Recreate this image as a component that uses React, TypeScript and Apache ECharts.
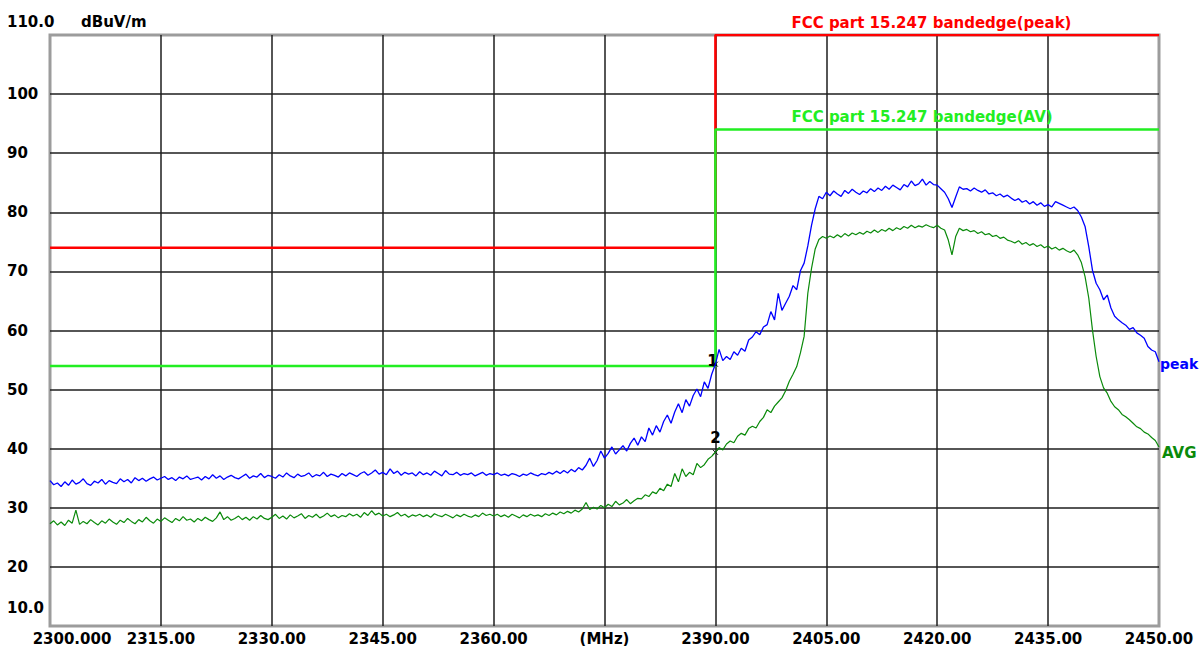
import React, { useEffect, useRef } from "react";
import * as echarts from "echarts";

// ---- data ----
const FREQ_START = 2300; // MHz
const FREQ_STEP = 0.5; // MHz between trace points
const FREQ_SPAN = 150;
const X_INTERVAL = 15;

const xTickLabels = ["2300.000", "2315.00", "2330.00", "2345.00", "2360.00", "(MHz)", "2390.00", "2405.00", "2420.00", "2435.00", "2450.00"];
const yTickLabels = ["10.0", "20", "30", "40", "50", "60", "70", "80", "90", "100", "110.0"];

const peakTrace = [
  34.6, 33.9, 34.2, 33.6, 34.4, 33.8, 34.7, 34.0, 34.3, 34.9, 34.1, 33.8, 34.5, 34.2, 34.8, 34.0, 34.6, 34.3, 34.1, 34.9,
  34.4, 34.8, 34.2, 35.1, 34.6, 35.0, 34.5, 34.9, 35.2, 34.7, 35.0, 35.3, 34.8, 35.1, 34.6, 35.2, 34.9, 35.4, 34.8, 35.0,
  35.2, 34.7, 35.3, 34.9, 35.6, 35.0, 35.4, 34.8, 35.2, 35.5, 35.1, 34.9, 35.3, 35.7, 35.0, 35.4, 35.2, 35.8, 35.1, 35.5,
  35.3, 35.0, 35.6, 35.2, 35.9, 35.4, 35.1, 35.7, 35.3, 35.5, 35.9, 35.2, 35.6, 35.4, 36.0, 35.3, 35.7, 35.5, 35.2, 35.8,
  35.4, 35.9, 35.6, 35.3, 35.8, 36.1, 35.5, 35.9, 36.4, 35.7, 36.0, 35.6, 36.6, 35.8, 36.2, 35.5, 36.0, 35.7, 35.9, 35.4,
  36.1, 35.6, 35.9, 35.5, 36.2, 35.8, 35.4, 36.3, 35.7, 35.6, 36.0, 35.5, 35.8, 35.6, 35.9, 35.4, 35.7, 36.0, 35.5, 35.8,
  35.6, 35.9, 35.5, 35.7, 35.4, 35.8, 35.6, 35.3, 35.7, 35.5, 35.9, 35.6, 35.4, 35.8, 35.6, 36.0, 35.7, 36.2, 35.8, 36.3,
  35.9, 36.5, 36.1, 36.8, 36.4, 37.2, 38.4, 37.0, 38.0, 39.6, 38.4, 39.2, 40.3, 39.1, 39.8, 40.5, 39.6, 40.9, 41.8, 40.6,
  42.0, 41.2, 43.5, 42.3, 43.9, 42.8, 44.6, 45.7, 44.3, 46.2, 47.6, 46.1, 48.3, 47.2, 49.0, 50.1, 48.8, 51.3, 50.2, 52.6,
  54.3, 56.8, 54.9, 55.6, 55.1, 56.4, 55.8, 57.0, 56.5, 58.4, 58.9, 59.8, 59.3, 60.6, 61.0, 63.2, 61.8, 66.3, 63.4, 64.6,
  65.8, 67.6, 66.9, 70.1, 71.4, 74.3, 77.8, 80.6, 82.7, 82.3, 83.4, 82.8, 83.6, 83.1, 82.7, 83.7, 83.2, 83.9, 83.4, 83.0,
  83.6, 83.3, 84.0, 83.5, 84.1, 83.7, 84.4, 83.9, 84.6, 84.2, 83.8, 84.7, 84.3, 85.3, 84.5, 84.8, 85.6, 84.6, 85.2, 84.7,
  84.6, 84.0, 83.4, 82.3, 80.8, 82.6, 84.3, 83.9, 84.0, 83.6, 84.1, 83.7, 83.4, 83.8, 83.1, 83.3, 82.8, 83.1, 82.6, 82.9,
  82.4, 82.0, 82.3, 81.7, 82.0, 81.4, 81.8, 81.2, 81.6, 81.0, 81.3, 80.9, 81.8, 81.5, 81.2, 80.9, 80.6, 80.9, 80.3, 79.2,
  77.6, 74.2, 70.2, 68.0, 66.9, 65.2, 66.0, 63.8, 62.4, 61.8, 61.3, 60.9, 60.2, 60.5, 59.6, 59.2, 58.7, 57.3, 56.7, 56.4,
  54.7,
];

const avgTrace = [
  27.3, 27.8, 27.1, 27.6, 27.0, 27.9, 27.4, 29.6, 27.2, 27.7, 27.3, 28.0, 27.5, 27.1, 27.8, 27.4, 28.1, 27.6, 27.2, 27.9,
  27.5, 28.2, 27.7, 27.3, 28.0, 27.6, 28.4, 27.8, 27.4, 28.1, 27.7, 28.3, 27.9, 27.5, 28.2, 27.8, 28.5, 27.9, 28.1, 27.6,
  28.2, 27.8, 28.4, 28.0, 27.7, 28.3, 29.3, 28.0, 28.5, 27.9, 28.2, 28.6, 28.0, 28.4, 27.9, 28.5, 28.1, 28.7, 28.2, 28.0,
  28.4, 28.9, 28.2, 28.6, 28.1, 28.8, 28.3, 28.6, 29.0, 28.2, 28.7, 28.4, 28.9, 28.3, 28.6, 29.1, 28.5, 28.8, 28.3, 28.7,
  28.5, 29.0, 28.6, 28.9, 28.4, 29.2, 28.7, 29.5, 28.8, 29.1, 28.6, 28.9, 28.5, 28.8, 29.2, 28.6, 28.9, 28.4, 28.8, 28.6,
  28.9, 28.5, 28.8, 28.4, 29.0, 28.7, 28.5, 28.9, 28.6, 28.3, 28.8, 28.5, 28.9, 28.6, 28.4, 28.8, 28.5, 29.1, 28.7, 28.9,
  28.6, 28.9, 28.5, 28.8, 28.4, 28.9, 28.6, 28.3, 28.8, 28.5, 28.9, 28.6, 28.8, 28.5, 29.0, 28.7, 29.1, 28.8, 29.3, 29.0,
  29.4, 29.1, 29.6, 29.3, 29.8, 30.9, 29.7, 30.1, 29.8, 30.4, 30.0, 30.6, 30.2, 31.1, 30.5, 30.8, 31.4, 30.7, 31.2, 31.6,
  31.5, 32.2, 31.9, 32.7, 32.4, 33.3, 32.9, 34.0, 33.6, 35.8, 34.4, 36.6, 35.3, 36.0, 35.6, 37.5, 36.8, 37.3, 38.2, 38.7,
  39.4, 40.2, 39.8, 40.8, 41.3, 41.0, 42.1, 42.6, 42.3, 43.4, 43.8, 43.5, 44.6, 45.3, 46.6, 46.1, 47.2, 47.9, 48.6, 49.8,
  51.4, 52.6, 53.9, 56.2, 59.0, 66.3, 70.5, 73.8, 75.4, 75.9, 75.6, 76.0, 75.7, 76.2, 75.8, 76.4, 76.0, 76.5, 76.2, 76.6,
  76.3, 76.8, 76.5, 77.0, 76.6, 77.1, 76.8, 77.3, 76.9, 77.4, 77.1, 77.6, 77.3, 77.8, 77.4, 77.7, 77.5, 77.9, 77.6, 77.4,
  77.8, 77.3, 77.0, 75.3, 72.8, 75.9, 77.3, 76.9, 77.1, 76.7, 76.9, 76.4, 76.7, 76.2, 76.4, 75.9, 76.1, 75.6, 75.8, 75.3,
  75.1, 74.8, 75.2, 74.6, 74.9, 74.4, 74.7, 74.2, 74.5, 74.0, 74.3, 73.8, 74.1, 73.6, 73.9, 73.5, 73.2, 73.6, 72.8, 71.5,
  69.1, 65.5, 60.1, 55.6, 52.2, 50.3, 49.4, 48.0, 47.1, 46.6, 45.8, 45.4, 44.9, 44.3, 43.7, 43.4, 42.8, 42.5, 41.9, 41.4,
  40.3,
];

const limitFreqs = [2300, 2390, 2390, 2450];
const peakLimitLevels = [74, 74, 110, 110];
const avLimitLevels = [54, 54, 94, 94];
const limitLabels = ["FCC part 15.247 bandedge(peak)", "FCC part 15.247 bandedge(AV)"];

const markerNames = ["1", "2"];
const markerFreqs = [2390, 2390];
const markerLevels = [54.3, 39.4];

// ---- styles ----
const FONT = "DejaVu Sans";
const BLUE = "#0000ff";
const DKGREEN = "#0a8a0a";
const RED = "#ff0000";
const LIMGREEN = "#22ee22";

const toXY = (trace: number[]) => trace.map((v, i) => [i * FREQ_STEP, v]);
const limitXY = (levels: number[]) => limitFreqs.map((f, i) => [f - FREQ_START, levels[i]]);

export default function App() {
  const ref = useRef<HTMLDivElement>(null);
  useEffect(() => {
    if (!ref.current) return;
    const chart = echarts.init(ref.current, undefined, { renderer: "svg" });
    const markerStyle = {
      symbol: "path://M0,0L10,10M10,0L0,10",
      symbolSize: 5,
      itemStyle: { color: "transparent", borderColor: "#000", borderWidth: 1 },
    };
    chart.setOption({
      animation: false,
      backgroundColor: "#ffffff",
      textStyle: { fontFamily: FONT, fontWeight: "bold", fontSize: 15 },
      grid: {
        left: 50,
        right: 41,
        top: 35,
        bottom: 20,
        show: true,
        borderColor: "#9c9c9c",
        borderWidth: 3,
        backgroundColor: "#ffffff",
      },
      xAxis: {
        type: "value",
        min: 0,
        max: FREQ_SPAN,
        interval: X_INTERVAL,
        axisLine: { show: false },
        axisTick: { show: false },
        splitLine: { show: true, showMinLine: false, showMaxLine: false, lineStyle: { color: "#1e1e1e", width: 1.5 } },
        axisLabel: {
          margin: 5,
          color: "#000",
          fontFamily: FONT,
          fontWeight: "bold",
          fontSize: 15,
          formatter: (v: number) => {
            const i = Math.round(v / X_INTERVAL);
            const t = xTickLabels[i];
            return i === 0 ? `{first|${t}}` : t;
          },
          rich: {
            first: { padding: [0, 0, 0, 44], color: "#000", fontFamily: FONT, fontWeight: "bold", fontSize: 15 },
          },
        },
      },
      yAxis: {
        type: "value",
        min: 10,
        max: 110,
        interval: 10,
        axisLine: { show: false },
        axisTick: { show: false },
        splitLine: { show: true, showMinLine: false, showMaxLine: false, lineStyle: { color: "#1e1e1e", width: 1.5 } },
        axisLabel: {
          align: "left",
          margin: 43,
          color: "#000",
          fontFamily: FONT,
          fontWeight: "bold",
          fontSize: 15,
          formatter: (v: number) => {
            const i = Math.round((v - 10) / 10);
            const t = yTickLabels[i];
            if (i === yTickLabels.length - 1) return `{top|${t}}`;
            if (i === 0) return `{bot|${t}}`;
            return t;
          },
          rich: {
            top: { padding: [0, 0, 26, 0], color: "#000", fontFamily: FONT, fontWeight: "bold", fontSize: 15 },
            bot: { padding: [0, 0, 36, 0], color: "#000", fontFamily: FONT, fontWeight: "bold", fontSize: 15 },
          },
        },
      },
      series: [
        {
          type: "line",
          name: "peak limit",
          data: limitXY(peakLimitLevels),
          symbol: "none",
          lineStyle: { color: RED, width: 2.5 },
          silent: true,
          z: 3,
        },
        {
          type: "line",
          name: "AV limit",
          data: limitXY(avLimitLevels),
          symbol: "none",
          lineStyle: { color: LIMGREEN, width: 2.5 },
          silent: true,
          z: 4,
        },
        {
          type: "line",
          name: "AVG",
          data: toXY(avgTrace),
          symbol: "none",
          lineStyle: { color: DKGREEN, width: 1.2 },
          z: 5,
          endLabel: {
            show: true,
            formatter: "AVG",
            color: DKGREEN,
            fontFamily: FONT,
            fontWeight: "bold",
            fontSize: 15,
            distance: 3,
            offset: [0, 6],
          },
          markPoint: {
            ...markerStyle,
            data: [
              {
                coord: [markerFreqs[1] - FREQ_START, markerLevels[1]],
                label: { show: true, formatter: markerNames[1], position: "inside", offset: [0, -14], color: "#000", fontFamily: FONT, fontWeight: "bold", fontSize: 15 },
              },
            ],
          },
        },
        {
          type: "line",
          name: "peak",
          data: toXY(peakTrace),
          symbol: "none",
          lineStyle: { color: BLUE, width: 1.3 },
          z: 6,
          endLabel: {
            show: true,
            formatter: "peak",
            color: BLUE,
            fontFamily: FONT,
            fontWeight: "bold",
            fontSize: 14,
            distance: 1,
            offset: [0, 2],
          },
          markPoint: {
            ...markerStyle,
            data: [
              {
                coord: [markerFreqs[0] - FREQ_START, markerLevels[0]],
                label: { show: true, formatter: markerNames[0], position: "inside", offset: [-3, -3], color: "#000", fontFamily: FONT, fontWeight: "bold", fontSize: 15 },
              },
            ],
          },
        },
      ],
    });

    const topLeft = chart.convertToPixel({ gridIndex: 0 }, [0, 110]) as number[];
    const peakCorner = chart.convertToPixel({ gridIndex: 0 }, [limitFreqs[1] - FREQ_START, peakLimitLevels[2]]) as number[];
    const avCorner = chart.convertToPixel({ gridIndex: 0 }, [limitFreqs[1] - FREQ_START, avLimitLevels[2]]) as number[];
    const font = `bold 15px "${FONT}"`;
    chart.setOption({
      graphic: [
        {
          type: "text",
          x: topLeft[0] + 31,
          y: topLeft[1] - 13,
          style: { text: "dBuV/m", fill: "#000", font, verticalAlign: "middle", align: "left" },
        },
        {
          type: "text",
          x: peakCorner[0] + 76,
          y: peakCorner[1] - 12,
          style: { text: limitLabels[0], fill: RED, font, verticalAlign: "middle", align: "left" },
        },
        {
          type: "text",
          x: avCorner[0] + 76,
          y: avCorner[1] - 13,
          style: { text: limitLabels[1], fill: LIMGREEN, font, verticalAlign: "middle", align: "left" },
        },
      ],
    });

    return () => chart.dispose();
  }, []);
  return (
    <div
      ref={ref}
      style={{ position: "absolute", left: 0, top: 0, width: 1200, height: 646, background: "#fff" }}
    />
  );
}
